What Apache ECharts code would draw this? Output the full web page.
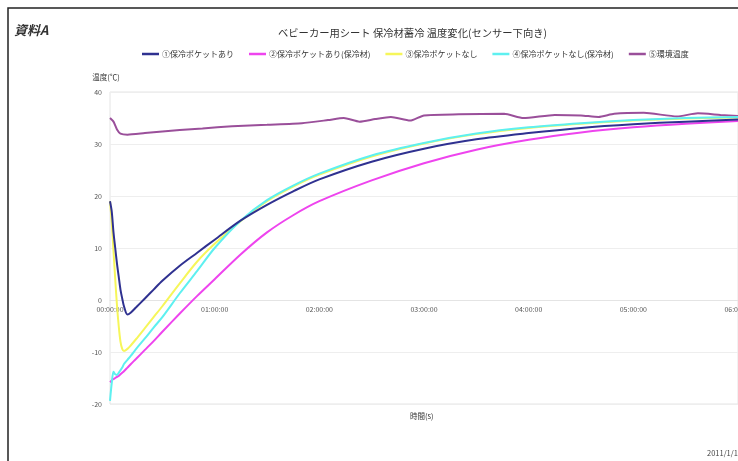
<!DOCTYPE html>
<html>
<head>
<meta charset="utf-8">
<script src="https://cdn.jsdelivr.net/npm/echarts@6/dist/echarts.min.js"></script>
<style>html,body{margin:0;padding:0;background:#fff;}#c{width:738px;height:461px;}</style>
</head>
<body>
<div id="c"></div>
<script>
// ---- data (minutes from start, temperature in ℃) ----
var seriesNames = ['①保冷ポケットあり', '②保冷ポケットあり(保冷材)', '③保冷ポケットなし', '④保冷ポケットなし(保冷材)', '⑤環境温度'];
var minutes = [0,1,2,3,4,5,6,7,8,10,12,15,20,25,30,40,50,60,75,90,105,120,150,180,210,240,270,300,330,360];
var s1 = [19,17,13,10,7,4.5,2,0.3,-1.2,-2.8,-2.4,-1.4,0.3,2.0,3.7,6.6,9.1,11.6,15.3,18.3,20.9,23.2,26.6,29.1,30.9,32.1,33.1,33.8,34.3,34.7];
var s2 = [-15.8,-15.5,-15.2,-15,-14.8,-14.6,-14.3,-14,-13.7,-13,-12.3,-11.3,-9.6,-7.9,-6.1,-2.6,0.8,4,8.8,13,16.3,19,23,26.3,28.9,30.8,32.2,33.2,33.9,34.4];
var s3 = [19,15,9.5,4,-1,-5,-8,-9.4,-9.8,-9.4,-8.7,-7.5,-5.4,-3.3,-1.2,3.2,7.4,10.8,15.2,19,21.8,24.1,27.6,30.1,31.9,33.1,33.9,34.5,34.9,35.1];
var s4 = [-19.4,-16,-13.8,-14.3,-14.4,-14,-13.5,-13,-12.3,-11.5,-10.7,-9.4,-7.4,-5.3,-3.3,1.3,5.6,10,15.3,19.2,22,24.3,27.8,30.2,32,33.2,34,34.6,35,35.2];
var envMinutes = [0,2,4,6,10,20,30,40,53,70,90,110,125,134,143,152,161,172,180,200,226,237,255,270,280,289,306,325,337,350,360];
var s5 = [35,34.3,32.8,32,31.8,32.1,32.4,32.7,33,33.4,33.7,34,34.6,35,34.3,34.8,35.2,34.5,35.5,35.7,35.8,35,35.6,35.5,35.2,35.8,36,35.3,35.9,35.6,35.4];
var yTicks = {min: -20, max: 40, interval: 10};
var xTicks = {min: 0, max: 360, interval: 60};

function pairs(xs, ys) { return xs.map(function (x, i) { return [x, ys[i]]; }); }
function fmtTime(v) { var h = Math.round(v / 60); return (h < 10 ? '0' : '') + h + ':00:00'; }

var font = '"Noto Sans CJK JP", "Noto Sans", sans-serif';
var chart = echarts.init(document.getElementById('c'));
var colors = {s1: '#2f3190', s2: '#ee44ee', s3: '#f6f65a', s4: '#5ef0f0', s5: '#9a4f9a'};

chart.setOption({
  animation: false,
  textStyle: {fontFamily: font},
  title: [
    {text: '資料A', left: 9, top: 19, textStyle: {fontSize: 13, fontWeight: 'bold', fontStyle: 'italic', color: '#333', fontFamily: font}},
    {text: 'ベビーカー用シート 保冷材蓄冷 温度変化(センサー下向き)', left: 273, top: 23, textStyle: {fontSize: 10.3, fontWeight: 'normal', color: '#333', fontFamily: font}},
    {text: '時間(s)', left: 405, top: 407, textStyle: {fontSize: 7.5, fontWeight: 'normal', color: '#333', fontFamily: font}},
    {text: '2011/1/18', left: 702, top: 444, textStyle: {fontSize: 7.5, fontWeight: 'normal', color: '#444', fontFamily: font}}
  ],
  graphic: [
    {type: 'rect', shape: {x: 8, y: 8, width: 800, height: 500}, style: {fill: 'none', stroke: '#222', lineWidth: 1.5}, silent: true}
  ],
  legend: {
    data: seriesNames,
    left: 137, top: 45,
    icon: 'rect', itemWidth: 17, itemHeight: 2.5, itemGap: 15,
    textStyle: {fontSize: 8, color: '#333', fontFamily: font, padding: [0, 0, 0, -2]}
  },
  grid: {left: 110, right: 0, top: 92, bottom: 57, show: true, borderColor: '#e4e4e4', borderWidth: 1, containLabel: false, outerBoundsMode: 'none'},
  xAxis: {
    type: 'value', min: xTicks.min, max: xTicks.max, interval: xTicks.interval,
    position: 'bottom', offset: 0,
    axisLine: {show: true, onZero: false, lineStyle: {color: '#e4e4e4'}},
    axisTick: {show: false},
    splitLine: {show: false},
    axisLabel: {formatter: fmtTime, fontSize: 7, color: '#555', margin: 6, fontFamily: font}
  },
  yAxis: {
    type: 'value', min: yTicks.min, max: yTicks.max, interval: yTicks.interval,
    name: '温度(℃)', nameGap: 11,
    nameTextStyle: {fontSize: 7.5, color: '#333', fontFamily: font, padding: [0, 8, 0, 0]},
    axisLine: {show: false, onZero: false}, axisTick: {show: false},
    splitLine: {lineStyle: {color: '#eeeeee'}},
    axisLabel: {fontSize: 7, color: '#555', margin: 8, fontFamily: font}
  },
  series: [
    {name: seriesNames[4], type: 'line', data: pairs(envMinutes, s5), showSymbol: false, smooth: 0.2, color: colors.s5, lineStyle: {width: 2}},
    {name: seriesNames[1], type: 'line', data: pairs(minutes, s2), showSymbol: false, smooth: 0.3, color: colors.s2, lineStyle: {width: 2}},
    {name: seriesNames[2], type: 'line', data: pairs(minutes, s3), showSymbol: false, smooth: 0.3, color: colors.s3, lineStyle: {width: 2}},
    {name: seriesNames[3], type: 'line', data: pairs(minutes, s4), showSymbol: false, smooth: 0.3, color: colors.s4, lineStyle: {width: 2}},
    {name: seriesNames[0], type: 'line', data: pairs(minutes, s1), showSymbol: false, smooth: 0.3, color: colors.s1, lineStyle: {width: 2}}
  ]
});

// place the time axis on the 0 ℃ line, measured through the y scale
var yZero = chart.convertToPixel({yAxisIndex: 0}, 0);
var yBottom = chart.convertToPixel({yAxisIndex: 0}, yTicks.min);
chart.setOption({xAxis: {offset: -(yBottom - yZero)}});
</script>
</body>
</html>
